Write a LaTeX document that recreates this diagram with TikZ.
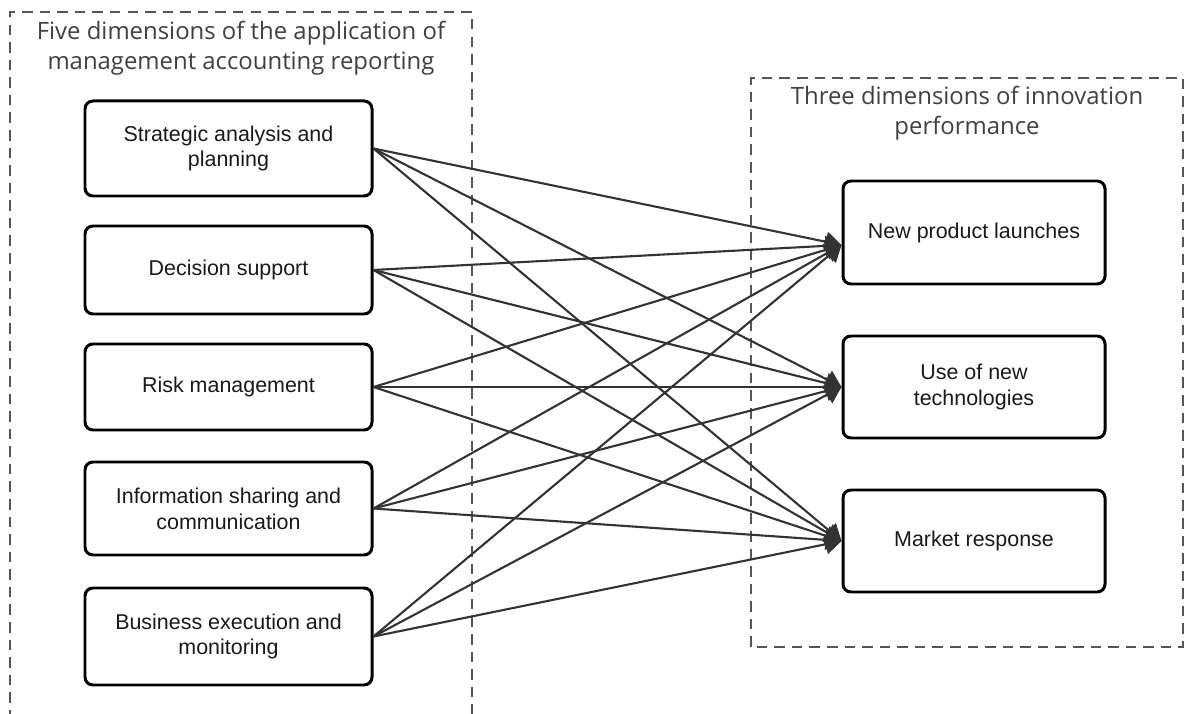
\documentclass[tikz,border=0pt]{standalone}
\usepackage{fontspec}
\setmainfont{Liberation Sans}
\newfontfamily\titlefont{Open Sans}
\usetikzlibrary{arrows.meta,positioning,calc}

\definecolor{framegray}{HTML}{555555}
\definecolor{titlegray}{HTML}{404040}
\definecolor{linkgray}{HTML}{333333}

\tikzset{
  dimbox/.style={draw=black, line width=1.7pt, rounded corners=4.5pt, align=center,
    minimum width=5.74cm, text=black!90, font=\fontsize{12.2}{14.7}\selectfont},
  frame/.style={draw=framegray, line width=0.9pt, dash pattern=on 6pt off 4pt},
  ftitle/.style={align=center, text=titlegray, font=\titlefont\fontsize{13.6}{17}\selectfont},
  link/.style={draw=linkgray, line width=1.2pt, -{Triangle[length=3.2mm,width=4mm]}}
}

\begin{document}
\begin{tikzpicture}
  \useasboundingbox (0,0) rectangle (23.74,14.26);

  % Dashed frames and their titles
  \draw[frame] (0.2,-0.5) -- (0.2,14.02) -- (9.44,14.02) -- (9.44,-0.5);
  \draw[frame] (15.02,1.32) rectangle (23.66,12.70);
  \node[ftitle] (ltitle) at (4.82,13.30) {Five dimensions of the application of\\management accounting reporting};
  \node[ftitle] (rtitle) at (19.34,12.00) {Three dimensions of innovation\\performance};

  % Left column: application of management accounting reporting
  \node[dimbox, minimum height=1.9cm]  (sap) at (4.57,11.29) {Strategic analysis and\\planning};
  \node[dimbox, minimum height=1.76cm] (ds)  at (4.57,8.86)  {Decision support};
  \node[dimbox, minimum height=1.72cm] (rm)  at (4.57,6.52)  {Risk management};
  \node[dimbox, minimum height=1.86cm] (isc) at (4.57,4.09)  {Information sharing and\\communication};
  \node[dimbox, minimum height=1.94cm] (bem) at (4.57,1.53)  {Business execution and\\monitoring};

  % Right column: innovation performance
  \node[dimbox, minimum width=5.24cm, minimum height=2.06cm] (npl) at (19.48,9.61) {New product launches};
  \node[dimbox, minimum width=5.24cm, minimum height=2.04cm] (unt) at (19.48,6.52) {Use of new\\technologies};
  \node[dimbox, minimum width=5.24cm, minimum height=2.04cm] (mr)  at (19.48,3.44) {Market response};

  % Arrow targets on the west sides
  \coordinate (npl-w) at ($(npl.west)+(0,-0.25)$);
  \coordinate (unt-w) at (unt.west);
  \coordinate (mr-w)  at (mr.west);

  % Every dimension points to every performance box
  \foreach \s in {sap,ds,rm,isc,bem}
    \foreach \t in {npl,unt,mr}
      \draw[link] (\s.east) -- (\t-w);
\end{tikzpicture}
\end{document}
